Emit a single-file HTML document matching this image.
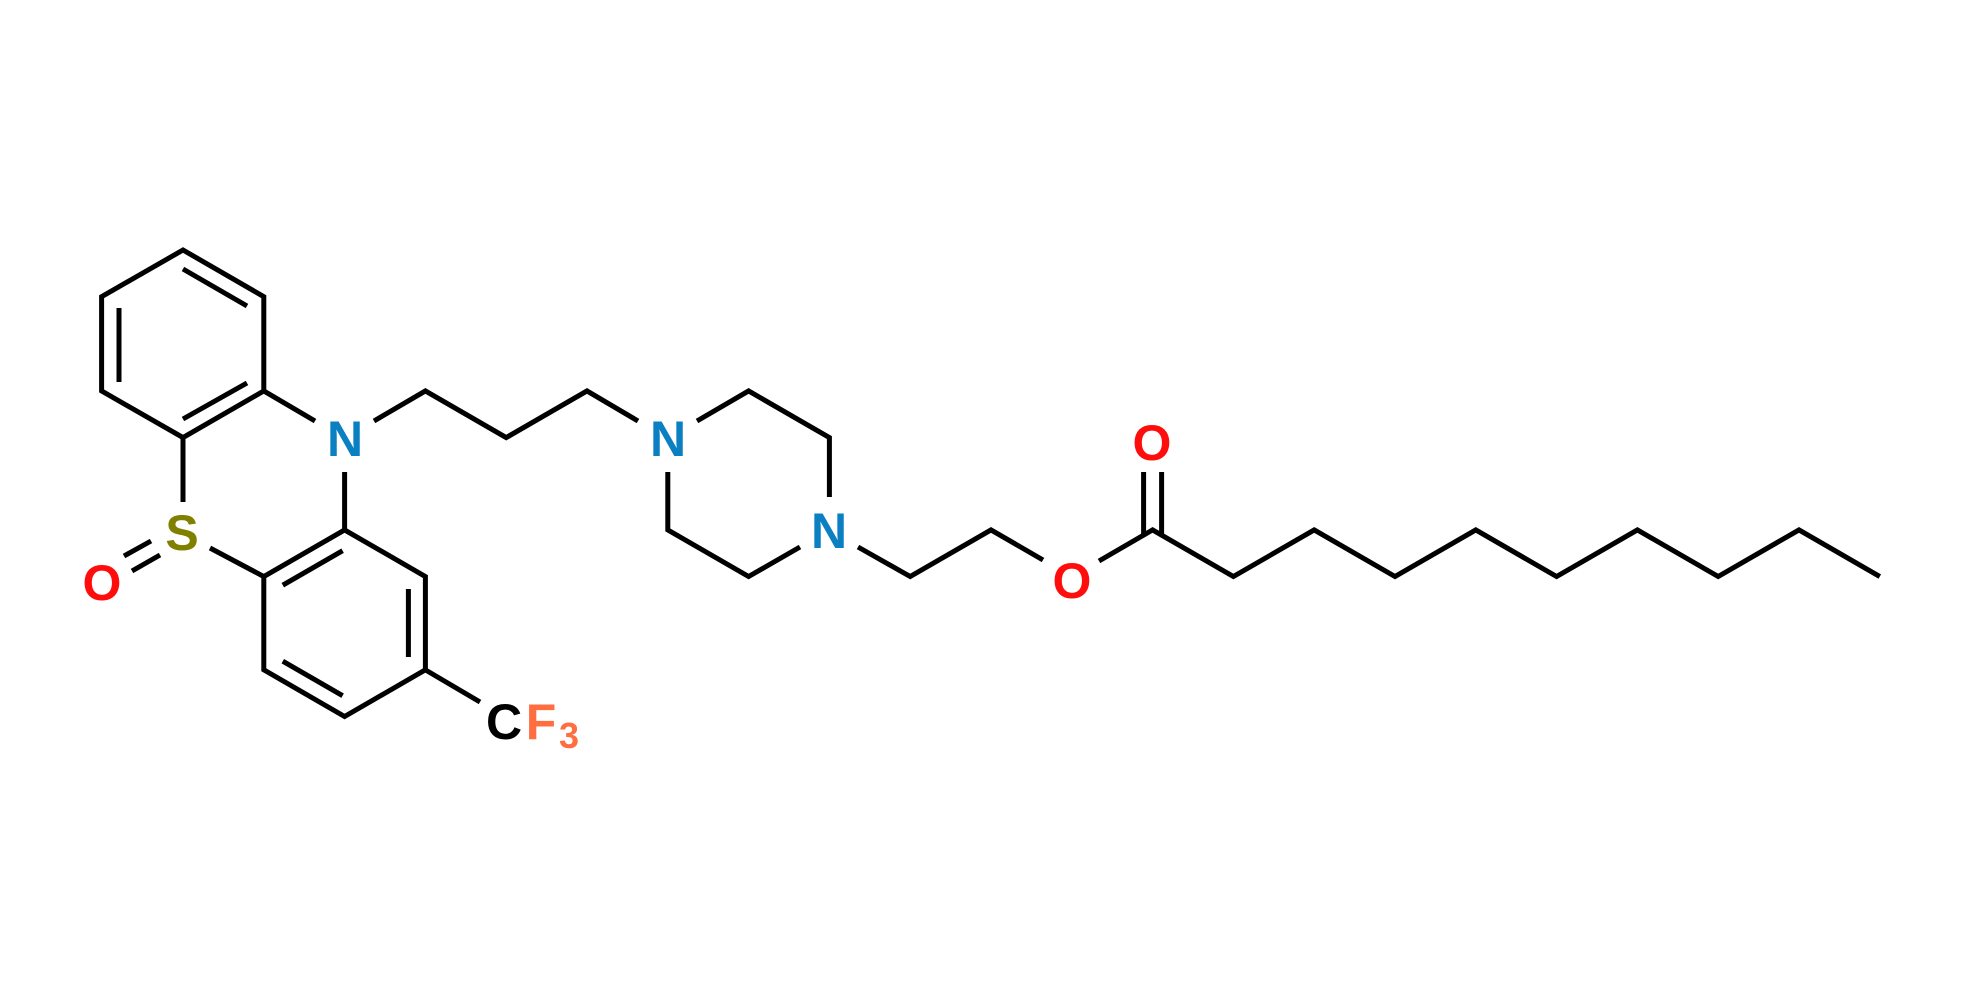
<!DOCTYPE html>
<html><head><meta charset="utf-8"><style>
html,body{margin:0;padding:0;background:#fff;}
svg{display:block;}
text{font-family:"Liberation Sans",Arial,sans-serif;font-weight:bold;}
</style></head><body>
<svg width="1980" height="998" viewBox="0 0 1980 998" xmlns="http://www.w3.org/2000/svg">
<g stroke="#000" stroke-width="5" fill="none" stroke-linejoin="miter" stroke-linecap="butt">
<!-- Ring A -->
<polyline points="183,437.6 101.6,390.95 101.6,296.65 183,250 263.8,296.65 263.8,390.95 183,437.6"/>
<line x1="183" y1="269" x2="247" y2="306"/>
<line x1="119" y1="308" x2="119" y2="382"/>
<line x1="183" y1="419" x2="247" y2="383"/>
<!-- middle ring -->
<line x1="263.8" y1="390.95" x2="315" y2="421"/>
<line x1="183" y1="437.6" x2="183" y2="502"/>
<line x1="344.6" y1="472" x2="344.6" y2="529.9"/>
<line x1="210" y1="548" x2="263.8" y2="576.55"/>
<!-- Ring C -->
<polyline points="344.6,529.9 263.8,576.55 263.8,669.85 344.6,716.5 425.4,669.85 425.4,576.55 344.6,529.9"/>
<line x1="342.6" y1="550.7" x2="282.8" y2="585.2"/>
<line x1="408.4" y1="589" x2="408.4" y2="657"/>
<line x1="282.8" y1="661.2" x2="342.6" y2="695.7"/>
<line x1="425.4" y1="669.85" x2="480" y2="702"/>
<!-- S=O -->
<line x1="124" y1="556" x2="151" y2="541"/>
<line x1="132" y1="571" x2="160" y2="555"/>
<!-- propyl chain -->
<polyline points="374,421 425.4,390.95 506.2,437.6 587,390.95 638,421"/>
<!-- piperazine -->
<polyline points="697,421 748.6,390.95 829.4,437.6 829.4,497"/>
<polyline points="667.8,472 667.8,529.9 748.6,576.55 800,547"/>
<!-- N3 to O -->
<polyline points="858,547 910.2,576.55 991,529.9 1043,560"/>
<!-- ester -->
<polyline points="1099,561 1152.6,529.9 1233.4,576.55 1314.2,529.9 1395,576.55 1475.8,529.9 1556.6,576.55 1637.4,529.9 1718.2,576.55 1799,529.9 1879.8,576.55"/>
<line x1="1143.6" y1="472" x2="1143.6" y2="535"/>
<line x1="1161.6" y1="472" x2="1161.6" y2="535"/>
</g>
<g font-size="50" text-anchor="middle">
<text x="345" y="456" fill="#0a7fc2">N</text>
<text x="668" y="456" fill="#0a7fc2">N</text>
<text x="829" y="548" fill="#0a7fc2">N</text>
<text x="182" y="550" fill="#808000">S</text>
<text x="102" y="600" fill="#ff0d0d">O</text>
<text x="1072" y="598" fill="#ff0d0d">O</text>
<text x="1152" y="460" fill="#ff0d0d">O</text>
<text x="504" y="739" fill="#000">C</text>
<text x="541" y="739" fill="#ff6e40">F</text>
<text x="569" y="748" font-size="36" fill="#ff6e40">3</text>
</g>
</svg>
</body></html>
